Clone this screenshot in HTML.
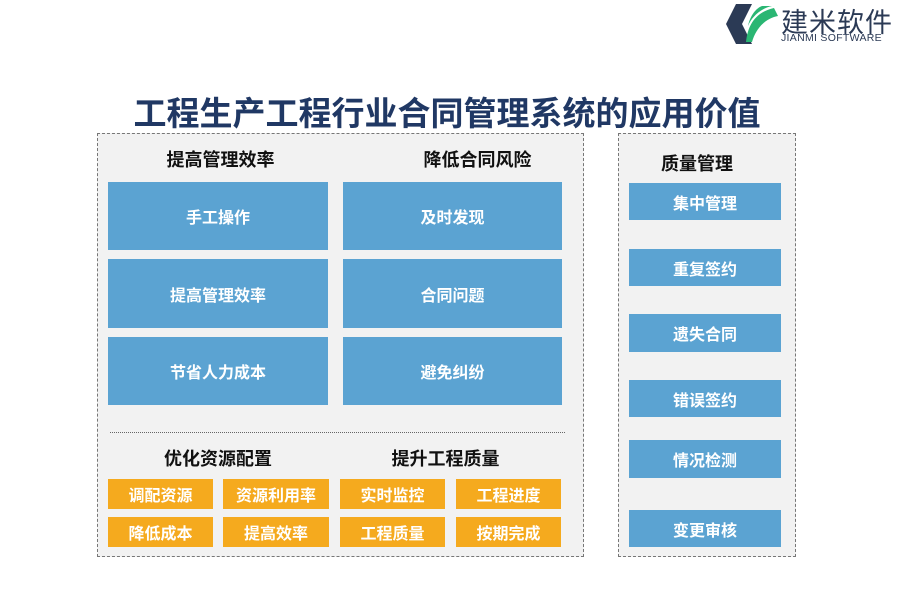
<!DOCTYPE html>
<html><head><meta charset="utf-8"><style>
body{margin:0;width:900px;height:600px;background:#fff;position:relative;overflow:hidden;font-family:"Liberation Sans","Noto Sans CJK SC",sans-serif}
.a{position:absolute}
.panel{position:absolute;background:#f2f2f2;border:1.5px dashed #777;box-sizing:border-box}
.b{position:absolute;background:#5ba3d2;color:#fff;font-weight:bold;font-size:16px;display:flex;align-items:center;justify-content:center}
.o{position:absolute;background:#f5aa1e;color:#fff;font-weight:bold;font-size:16px;display:flex;align-items:center;justify-content:center}
.h{position:absolute;font-weight:bold;font-size:18px;color:#111;text-align:center}
</style></head><body>
<svg class="a" style="left:722px;top:2px" width="60" height="44" viewBox="0 0 60 44">
<polygon points="14,2 30,2 20,22 30,42 14,42 4,22" fill="#2b3a55"/>
<path d="M24,40 C26,22 34,10 52,6 L56,14 C44,16 34,26 30,40 Z" fill="#2ab673"/>
<path d="M26,24 C30,14 40,6 50,4 L40,4 C34,6 28,14 26,24Z" fill="#2ab673"/>
</svg>
<div class="a" style="left:781px;top:1px;font-size:27px;color:#2b3a55;letter-spacing:1px">建米软件</div>
<div class="a" style="left:781px;top:32px;font-size:10.5px;color:#2b3a55;letter-spacing:0.3px">JIANMI SOFTWARE</div>
<div class="a" style="left:0;width:894px;top:87px;text-align:center;font-size:33px;font-weight:bold;color:#203864">工程生产工程行业合同管理系统的应用价值</div>
<div class="panel" style="left:97px;top:133px;width:487px;height:424px"></div>
<div class="panel" style="left:618px;top:133px;width:178px;height:424px"></div>
<div class="h" style="left:108px;width:225px;top:146px">提高管理效率</div>
<div class="h" style="left:365px;width:225px;top:146px">降低合同风险</div>
<div class="b" style="left:108px;top:182px;width:220px;height:68px">手工操作</div>
<div class="b" style="left:108px;top:259px;width:220px;height:69px">提高管理效率</div>
<div class="b" style="left:108px;top:337px;width:220px;height:68px">节省人力成本</div>
<div class="b" style="left:343px;top:182px;width:219px;height:68px">及时发现</div>
<div class="b" style="left:343px;top:259px;width:219px;height:69px">合同问题</div>
<div class="b" style="left:343px;top:337px;width:219px;height:68px">避免纠纷</div>
<div class="a" style="left:110px;top:432px;width:455px;border-top:1.5px dotted #666"></div>
<div class="h" style="left:108px;width:220px;top:445px">优化资源配置</div>
<div class="h" style="left:335px;width:221px;top:445px">提升工程质量</div>
<div class="o" style="left:108px;top:479px;width:105px;height:30px">调配资源</div>
<div class="o" style="left:223px;top:479px;width:106px;height:30px">资源利用率</div>
<div class="o" style="left:340px;top:479px;width:105px;height:30px">实时监控</div>
<div class="o" style="left:456px;top:479px;width:105px;height:30px">工程进度</div>
<div class="o" style="left:108px;top:517px;width:105px;height:30px">降低成本</div>
<div class="o" style="left:223px;top:517px;width:106px;height:30px">提高效率</div>
<div class="o" style="left:340px;top:517px;width:105px;height:30px">工程质量</div>
<div class="o" style="left:456px;top:517px;width:105px;height:30px">按期完成</div>
<div class="h" style="left:618px;width:158px;top:150px">质量管理</div>
<div class="b" style="left:629px;top:183px;width:152px;height:37px">集中管理</div>
<div class="b" style="left:629px;top:249px;width:152px;height:37px">重复签约</div>
<div class="b" style="left:629px;top:314px;width:152px;height:38px">遗失合同</div>
<div class="b" style="left:629px;top:380px;width:152px;height:37px">错误签约</div>
<div class="b" style="left:629px;top:440px;width:152px;height:38px">情况检测</div>
<div class="b" style="left:629px;top:510px;width:152px;height:37px">变更审核</div>
</body></html>
